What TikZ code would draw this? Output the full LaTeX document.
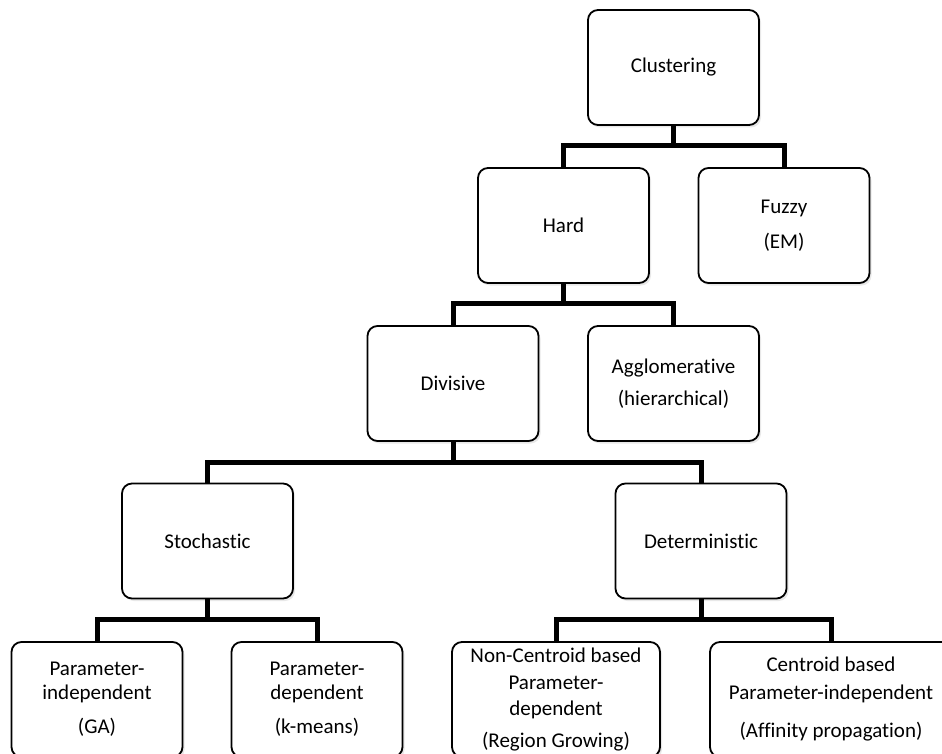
\documentclass[tikz,border=0pt]{standalone}
\usepackage{fontspec}
\setmainfont{Carlito}[Ligatures=NoCommon]
\usetikzlibrary{shadows}
\begin{document}
\begin{tikzpicture}[x=1pt,y=-1pt,
  box/.style={draw, line width=1.8pt, rounded corners=10pt, fill=white, align=center,
    inner sep=0pt, minimum width=171pt, minimum height=115pt,
    drop shadow={opacity=0.18, shadow xshift=2pt, shadow yshift=-2.5pt},
    font=\fontsize{21}{24}\selectfont},
  conn/.style={line width=5pt, line join=miter}]
\useasboundingbox (0,0) rectangle (942,754);
\clip (0,0) rectangle (942,754);
% nodes
\node[box] (clus) at (673.5,67.5) {Clustering};
\node[box] (hard) at (563.5,225.5) {Hard};
\node[box] (fuzzy) at (784,225.5) {Fuzzy\\[11pt](EM)};
\node[box] (div) at (453,383.5) {Divisive};
\node[box] (agg) at (673.5,383.5) {Agglomerative\\[8pt](hierarchical)};
\node[box] (sto) at (207.5,541) {Stochastic};
\node[box] (det) at (701,541) {Deterministic};
\node[box] (pi) at (97,699.5) {Parameter-\\independent\\[10pt](GA)};
\node[box] (pd) at (317,699.5) {Parameter-\\dependent\\[10pt](k-means)};
\node[box, minimum width=208pt] (nc) at (556,699.5) {Non-Centroid based\\[3pt]Parameter-\\[2pt]dependent\\[8pt](Region Growing)};
\node[box, minimum width=242pt] (cb) at (831,699.5) {Centroid based\\[4pt]Parameter-independent\\[14pt](Affinity propagation)};
% junctions
\coordinate (j1) at (673.5,146);
\coordinate (j2) at (563.5,303);
\coordinate (j3) at (453,462);
\coordinate (j4) at (207.5,619);
\coordinate (j5) at (701,619);
% connectors
\draw[conn] (clus.south) -- (j1);
\draw[conn] (hard.north) |- (j1) -| (fuzzy.north);
\draw[conn] (hard.south) -- (j2);
\draw[conn] (div.north) |- (j2) -| (agg.north);
\draw[conn] (div.south) -- (j3);
\draw[conn] (sto.north) |- (j3) -| (det.north);
\draw[conn] (sto.south) -- (j4);
\draw[conn] (pi.north) |- (j4) -| (pd.north);
\draw[conn] (det.south) -- (j5);
\draw[conn] (nc.north) |- (j5) -| (cb.north);
\end{tikzpicture}
\end{document}
